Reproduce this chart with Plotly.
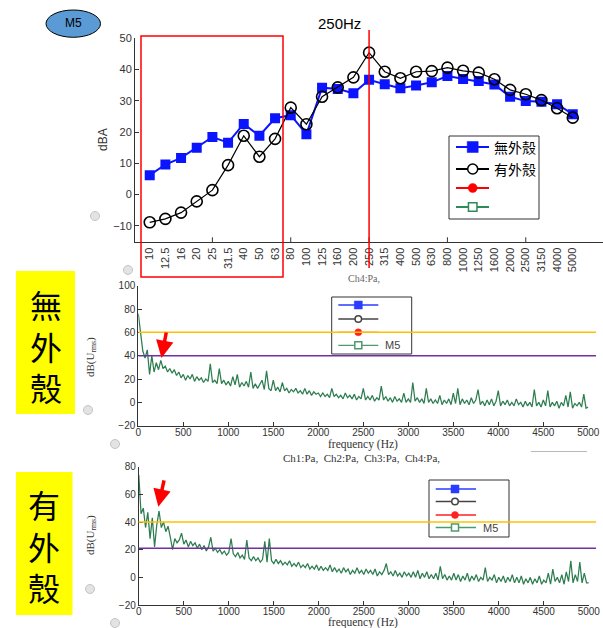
import plotly.graph_objects as go

W, H = 603, 628


def px(x):
    return x / W


def py(y):
    return 1 - y / H


# ---------------- data: 1/3-octave band levels (top chart) ----------------
bands = ["10", "12.5", "16", "20", "25", "31.5", "40", "50", "63", "80", "100", "125",
         "160", "200", "250", "315", "400", "500", "630", "800", "1000", "1250", "1600",
         "2000", "2500", "3150", "4000", "5000"]
no_shell_dba = [6.2, 9.6, 11.7, 15.0, 18.4, 16.6, 22.6, 18.8, 24.4, 25.4, 19.3, 34.2,
                33.8, 32.4, 36.7, 35.3, 34.0, 34.9, 35.9, 37.9, 37.0, 36.3, 35.2, 31.3,
                29.9, 29.7, 28.9, 25.7]
with_shell_dba = [-8.9, -7.8, -5.8, -2.2, 1.4, 9.4, 18.8, 12.1, 17.8, 27.8, 22.5, 31.3,
                  34.3, 37.5, 45.4, 39.3, 37.2, 39.3, 39.5, 40.6, 39.6, 39.0, 36.9, 33.5,
                  32.1, 30.2, 27.6, 24.6]
marked_band = "250"
tick_mark_bands = ["25", "80", "250", "800", "2500"]
legend_top_labels = ["無外殼", "有外殼", "", ""]
legend_spec_labels = ["", "", "", "M5"]

# ---------------- data: narrow-band spectra (25 Hz bins, 0..5000 Hz) ----------------
freq_hz = [25 * i for i in range(201)]
spec_no_shell = [
    76, 58, 44, 38, 45, 24, 40, 26, 34, 28, 36, 29, 31, 26, 29, 25, 28, 23, 26, 21,
    24, 19, 23, 20, 24, 18, 22, 19, 21, 17, 20, 18, 33, 17, 19, 16, 29, 16, 19, 15,
    18, 14, 22, 15, 24, 13, 17, 14, 18, 13, 26, 12, 16, 12, 15, 19, 11, 27, 12, 10,
    19, 10, 13, 9, 17, 10, 12, 8, 11, 9, 12, 8, 10, 7, 12, 7, 10, 6, 9, 7,
    8, 5, 8, 5, 7, 4, 12, 5, 7, 4, 6, 3, 8, 4, 6, 3, 7, 2, 5, 3,
    12, 2, 5, 2, 6, 1, 4, 2, 14, 2, 5, 1, 4, 0, 5, 1, 3, 0, 8, 0,
    3, 0, 17, 1, 4, 0, 3, -1, 12, 0, 3, -1, 2, -1, 6, -2, 2, -1, 3, -2,
    8, -1, 12, -2, 3, -1, 2, -2, 4, -1, 2, 11, -2, 1, -3, 2, -2, 3, -3, 1,
    10, -3, 1, -2, 2, -3, 0, -3, 3, -2, 0, -4, 1, -3, 0, -4, 11, -3, 0, -4,
    2, -3, 10, -4, 0, -3, 1, -5, 0, -3, 6, -4, 9, -5, -1, -3, 0, -4, 7, -5,
    -4]
spec_with_shell = [
    74, 46, 50, 36, 47, 28, 43, 22, 38, 48, 36, 40, 33, 37, 29, 20, 28, 25, 27, 32,
    24, 27, 22, 26, 23, 25, 21, 24, 20, 23, 19, 22, 29, 19, 21, 18, 20, 17, 19, 16,
    18, 28, 17, 15, 18, 14, 16, 13, 27, 14, 12, 15, 12, 14, 11, 13, 26, 11, 28, 12,
    10, 13, 10, 12, 9, 11, 9, 12, 8, 10, 8, 11, 7, 9, 7, 10, 6, 8, 6, 9,
    5, 8, 5, 7, 5, 9, 4, 7, 4, 6, 3, 7, 4, 6, 2, 5, 3, 7, 3, 5,
    2, 6, 3, 5, 2, 6, 1, 4, 2, 5, 10, 2, 4, 1, 5, 1, 3, 0, 4, 1,
    3, 0, 4, 0, 5, -1, 3, 0, 4, -1, 2, -1, 3, -2, 8, -1, 2, -2, 1, -2,
    3, -2, 2, -3, 1, -2, 3, -3, 1, -2, 2, -3, 0, -2, 7, -3, 0, -2, 2, -4,
    0, -3, 1, -4, 0, -3, 2, -4, 0, -4, 1, -5, -1, -4, 0, -5, -1, -4, 1, -5,
    -2, -4, 3, -5, 6, -3, 0, -4, 2, -5, 4, -3, 12, -4, 2, -3, 11, -4, 3, -4,
    -4]
limits_no_shell = [60, 40]      # orange, purple
limits_with_shell = [40, 21]    # orange, purple
arrow_no_shell = [258, 38]      # Hz, dB (tip of red arrow)
arrow_with_shell = [217, 51]

BLUE = "#0a14ff"
GREEN = "#2e7d50"
ORANGE = "#ffc000"
PURPLE = "#7030a0"
AX = "#333333"
CJK = "Noto Sans CJK TC"

fig = go.Figure()

# ---------------- top chart ----------------
fig.add_trace(go.Scatter(x=bands, y=no_shell_dba, name=legend_top_labels[0],
                         mode="lines+markers", line=dict(color=BLUE, width=2),
                         marker=dict(symbol="square", size=10, color=BLUE),
                         xaxis="x", yaxis="y", showlegend=False))
fig.add_trace(go.Scatter(x=bands, y=with_shell_dba, name=legend_top_labels[1],
                         mode="lines+markers", line=dict(color="black", width=1.2),
                         marker=dict(symbol="circle-open", size=11, color="black",
                                     line=dict(width=1.6)),
                         xaxis="x", yaxis="y", showlegend=False))

# ---------------- spectra ----------------
for spec, xa, ya in [(spec_no_shell, "x2", "y2"), (spec_with_shell, "x3", "y3")]:
    fig.add_trace(go.Scatter(x=freq_hz, y=spec, mode="lines",
                             line=dict(color=GREEN, width=1.25),
                             showlegend=False, xaxis=xa, yaxis=ya))

tickfont = dict(family="Liberation Sans", size=11, color=AX)
tickfont_s = dict(family="Liberation Sans", size=10, color=AX)
common = dict(showline=True, linecolor=AX, linewidth=1, showgrid=False, zeroline=False,
              automargin=False)

fig.update_layout(
    template="none",
    width=W, height=H, margin=dict(l=0, r=0, t=0, b=0, pad=0, autoexpand=False),
    paper_bgcolor="white", plot_bgcolor="rgba(0,0,0,0)", showlegend=False,
    xaxis=dict(domain=[px(135), 1.0], type="category", range=[-0.94, 28.93],
               ticks="", tickangle=-90, anchor="y", tickfont=tickfont, **common),
    yaxis=dict(domain=[py(242.3), py(38.3)], range=[-15.3, 50], dtick=10,
               ticks="inside", ticklen=4, tickcolor=AX, anchor="x", tickfont=tickfont,
               **common),
    xaxis2=dict(domain=[px(138.3), px(588.3)], range=[0, 5000], dtick=500,
                ticks="inside", ticklen=4, tickcolor=AX, anchor="y2", tickfont=tickfont_s,
                ticklabelstandoff=-3, **common),
    yaxis2=dict(domain=[py(425.7), py(285.7)], range=[-20, 100], dtick=20,
                ticks="inside", ticklen=4, tickcolor=AX, anchor="x2", tickfont=tickfont_s,
                **common),
    xaxis3=dict(domain=[px(138.8), px(588.8)], range=[0, 5000], dtick=500,
                ticks="inside", ticklen=4, tickcolor=AX, anchor="y3", tickfont=tickfont_s,
                ticklabelstandoff=-3, **common),
    yaxis3=dict(domain=[py(605), py(466.7)], range=[-20, 80], dtick=20,
                ticks="inside", ticklen=4, tickcolor=AX, anchor="x3", tickfont=tickfont_s,
                **common),
)

shapes = []
ann = []


def add_legend(box, rows, line_x, mark_x, text_x, sizes, colors, symbols, labels,
               font, line_w):
    x0, y0, x1, y1 = box
    shapes.append(dict(type="rect", xref="paper", yref="paper", x0=px(x0), x1=px(x1),
                       y0=py(y1), y1=py(y0), fillcolor="white",
                       line=dict(color="#333", width=1)))
    for ry, s, c, sym, lab in zip(rows, sizes, colors, symbols, labels):
        shapes.append(dict(type="line", xref="paper", yref="paper", x0=px(line_x[0]),
                           x1=px(line_x[1]), y0=py(ry), y1=py(ry),
                           line=dict(color=c, width=line_w)))
        h = s / 2
        kind = "rect" if sym.startswith("square") else "circle"
        filled = not sym.endswith("open")
        shapes.append(dict(type=kind, xref="paper", yref="paper", x0=px(mark_x - h),
                           x1=px(mark_x + h), y0=py(ry + h), y1=py(ry - h),
                           fillcolor=c if filled else "white",
                           line=dict(color=c, width=1.5 if not filled else 0.5)))
        if lab:
            ann.append(dict(text=lab, xref="paper", yref="paper", x=px(text_x), y=py(ry),
                            xanchor="left", yanchor="middle", showarrow=False, font=font))


# inward tick marks on the band axis (every 5th band)
for b in tick_mark_bands:
    i = bands.index(b)
    shapes.append(dict(type="line", xref="x", yref="paper", x0=i, x1=i,
                       y0=py(242.3), y1=py(237.3), line=dict(color=AX, width=1)))

# red box around low bands, red line at 250 Hz
shapes.append(dict(type="rect", xref="paper", yref="paper", x0=px(141), x1=px(283),
                   y0=py(277), y1=py(36), line=dict(color="red", width=1.5)))
mi = bands.index(marked_band)
shapes.append(dict(type="line", xref="x", yref="paper", x0=mi, x1=mi,
                   y0=py(268), y1=py(30), line=dict(color="red", width=1.5)))

# legends
add_legend((449, 136, 539, 219), [147, 169, 188, 207], (456, 489), 472.7, 492,
           [11, 10, 9, 8.5], [BLUE, "black", "red", "#2e8b57"],
           ["square", "circle-open", "circle", "square-open"], legend_top_labels,
           dict(family=CJK, size=14, color="black"), 1.8)
add_legend((331.7, 297, 411.7, 354), [305, 319, 332.3, 345.3], (338.3, 378.3), 358.3, 383,
           [8, 6.5, 7, 7], ["#2a3cff", "#444444", "#ff2020", "#4f9a6c"],
           ["square", "circle-open", "circle", "square-open"], legend_spec_labels,
           dict(family="Liberation Sans", size=11, color="#444"), 1.3)
add_legend((429, 480, 509, 537), [489, 501.5, 515, 527.5], (435.7, 476), 455, 481,
           [8, 6.5, 7, 7], ["#2a3cff", "#444444", "#ff2020", "#4f9a6c"],
           ["square", "circle-open", "circle", "square-open"], legend_spec_labels,
           dict(family="Liberation Sans", size=11, color="#444"), 1.3)

# limit lines on spectra (drawn over the legends as in the reference)
for vals, yr in [(limits_no_shell, "y2"), (limits_with_shell, "y3")]:
    for v, c in zip(vals, [ORANGE, PURPLE]):
        shapes.append(dict(type="line", xref="paper", yref=yr, x0=px(138.5), x1=px(596),
                           y0=v, y1=v, line=dict(color=c, width=1.5)))
# M5 ellipse
shapes.append(dict(type="circle", xref="paper", yref="paper", x0=px(46), x1=px(100.5),
                   y0=py(37.3), y1=py(10), fillcolor="#5b9bd5",
                   line=dict(color="black", width=1)))
# yellow labels
shapes.append(dict(type="rect", xref="paper", yref="paper", x0=px(16), x1=px(75),
                   y0=py(414), y1=py(271), fillcolor="#ffff00", line=dict(width=0)))
shapes.append(dict(type="rect", xref="paper", yref="paper", x0=px(16), x1=px(72.5),
                   y0=py(615), y1=py(472), fillcolor="#ffff00", line=dict(width=0)))
# small gray round buttons
for cx, cy in [(95, 216), (128, 270), (88, 410), (115, 444), (90, 589), (115, 623)]:
    shapes.append(dict(type="circle", xref="paper", yref="paper",
                       x0=px(cx - 4.5), x1=px(cx + 4.5), y0=py(cy + 4.5), y1=py(cy - 4.5),
                       fillcolor="#e3e3e3", line=dict(color="#c4c4c4", width=1)))
# partial gray box
shapes.append(dict(type="line", xref="paper", yref="paper", x0=px(531), x1=px(587),
                   y0=py(451.5), y1=py(451.5), line=dict(color="#b8b8b8", width=1)))
fig.update_layout(shapes=shapes)


def note(text, x, y, size, family="Liberation Sans", color=AX, angle=0):
    ann.append(dict(text=text, xref="paper", yref="paper", x=px(x), y=py(y),
                    xanchor="center", yanchor="middle", textangle=angle,
                    showarrow=False, font=dict(family=family, size=size, color=color)))


note("250Hz", 339, 24, 15, color="black")
note("M5", 73, 23.5, 12, color="black")
note("dBA", 103, 140, 12, angle=-90)
for yc in [357, 535]:
    note("dB(U<sub>rms</sub>)", 91, yc, 11, family="Liberation Serif", angle=-90)
for yc in [444.5, 622.5]:
    note("frequency (Hz)", 363, yc, 11.5, family="Liberation Serif")
note("Ch4:Pa,", 364, 278, 10, family="Liberation Serif", color="#666")
note("Ch1:Pa,\u00a0\u00a0Ch2:Pa,\u00a0\u00a0Ch3:Pa,\u00a0\u00a0Ch4:Pa,", 361, 458, 11,
     family="Liberation Serif")
note("無<br>外<br>殼", 45.5, 345, 32, family=CJK, color="black")
note("有<br>外<br>殼", 44, 545, 32, family=CJK, color="black")

# red arrows
ann.append(dict(x=arrow_no_shell[0], y=arrow_no_shell[1], xref="x2", yref="y2", ax=5, ay=-27,
                showarrow=True, arrowhead=2, arrowsize=1, arrowwidth=3.5, arrowcolor="red",
                text=""))
ann.append(dict(x=arrow_with_shell[0], y=arrow_with_shell[1], xref="x3", yref="y3", ax=6,
                ay=-28, showarrow=True, arrowhead=2, arrowsize=1, arrowwidth=3.5,
                arrowcolor="red", text=""))
fig.update_layout(annotations=ann)

fig.write_html("out.html")
